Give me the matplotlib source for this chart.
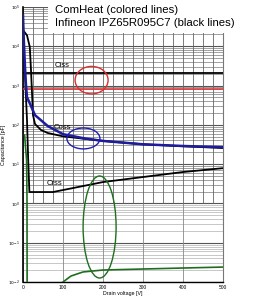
import numpy as np
import matplotlib
matplotlib.use("Agg")
import matplotlib.pyplot as plt
from matplotlib.patches import Ellipse, Rectangle

plt.rcParams['font.family'] = ['Liberation Sans', 'DejaVu Sans']

# ---- data (drain voltage V, capacitance pF) ----
ciss_black_v = [0, 500]
ciss_black_c = [2100, 2100]

ciss_red_v = [0, 500]
ciss_red_c = [810, 810]

coss_black_v = [0, 10, 17, 20, 25, 30, 45, 62, 100, 200, 300, 400, 500]
coss_black_c = [25800, 19000, 9600, 2460, 177, 105, 74, 62, 51, 39, 32, 28.5, 25.7]

coss_blue_v = [0, 2, 5, 7.5, 10, 30, 62, 100, 150, 200, 300, 400, 500]
coss_blue_c = [62000, 14400, 2950, 1020, 510, 177, 93, 58, 46, 39, 32, 29, 27]

crss_black_v = [0, 5, 10, 13, 16, 75, 200, 300, 400, 500]
crss_black_c = [10700, 1860, 132, 12.6, 1.95, 1.95, 3.5, 4.7, 6.3, 7.9]

crss_green1_v = [4, 6, 9, 10, 10.3]
crss_green1_c = [55, 30, 12.6, 1.2, 0.01]

crss_green2_v = [100, 120, 150, 200, 300, 400, 500]
crss_green2_c = [0.01, 0.0142, 0.018, 0.0202, 0.0214, 0.0227, 0.024]

ytick_vals = [1e-2, 1e-1, 1e0, 1e1, 1e2, 1e3, 1e4, 1e5]
ytick_labels = ['$10^{-2}$', '$10^{-1}$', '$10^{0}$', '$10^{1}$',
                '$10^{2}$', '$10^{3}$', '$10^{4}$', '$10^{5}$']
xtick_vals = [0, 100, 200, 300, 400, 500]
xtick_labels = ['0', '100', '200', '300', '400', '500']

fig = plt.figure(figsize=(2.58, 3.0), dpi=100)
ax = fig.add_axes([23/258, 18/300, 200/258, 275/300])
ax.set_yscale('log')
ax.set_xlim(0, 500)
ax.set_ylim(1e-2, 1e5)

# grid
minor_mult = np.arange(2, 10)
upper_minor = np.concatenate([minor_mult * 10.0**e for e in range(0, 5)])
lower_minor = np.concatenate([minor_mult * 10.0**e for e in range(-2, 0)])
ax.hlines(upper_minor, 0, 500, color='#7a7a7a', lw=0.5, zorder=0)
ax.hlines(lower_minor, 0, 500, color='#b0b0b0', lw=0.5, zorder=0)
ax.hlines(ytick_vals, 0, 500, color='#555555', lw=0.8, zorder=0)
ax.vlines(np.arange(0, 501, 25), 1, 1e5, color='#666666', lw=0.6, zorder=0)
ax.vlines(np.arange(0, 501, 100), 1e-2, 1, color='#888888', lw=0.6, zorder=0)

ax.set_yticks(ytick_vals)
ax.set_yticklabels(ytick_labels, fontsize=3.2)
ax.set_xticks(xtick_vals)
ax.set_xticklabels(xtick_labels, fontsize=3.5)
ax.tick_params(length=0, pad=2)
ax.tick_params(axis='y', which='minor', length=0)
ax.set_xlabel('Drain voltage [V]', fontsize=3.8, labelpad=1)
ax.set_ylabel('Capacitance [pF]', fontsize=3.8, labelpad=2)
ax.spines['top'].set_visible(False)
ax.spines['right'].set_color('#777777')
ax.spines['left'].set_linewidth(1.2)
ax.spines['bottom'].set_linewidth(1.0)

# curves
ax.plot(ciss_red_v, ciss_red_c, color='#e03a3a', lw=1.2, zorder=3)
ax.plot(ciss_black_v, ciss_black_c, color='black', lw=1.3, zorder=3)
ax.plot(coss_black_v, coss_black_c, color='black', lw=1.3, zorder=3)
ax.plot(coss_blue_v, coss_blue_c, color='#1c1c9c', lw=1.8, zorder=4)
ax.plot(crss_black_v, crss_black_c, color='black', lw=1.3, zorder=3)
ax.plot(crss_green1_v, crss_green1_c, color='#1f6e1f', lw=1.2, zorder=3)
ax.plot(crss_green2_v, crss_green2_c, color='#1f6e1f', lw=1.2, zorder=3)

# curve labels
ax.text(80, 3300, 'Ciss', fontsize=5.5, va='center', ha='left', zorder=5)
ax.text(77, 85, 'Coss', fontsize=5.5, va='center', ha='left', zorder=5)
ax.text(60, 3.2, 'Crss', fontsize=5.5, va='center', ha='left', zorder=5)

# highlight ellipses (axes fraction)
ax.add_patch(Ellipse((0.343, 0.734), 0.165, 0.10, transform=ax.transAxes,
                     fill=False, ec='#d93030', lw=1.0, zorder=6))
ax.add_patch(Ellipse((0.302, 0.522), 0.165, 0.076, transform=ax.transAxes,
                     fill=False, ec='#2020b0', lw=1.0, zorder=6))
ax.add_patch(Ellipse((0.383, 0.20), 0.165, 0.371, transform=ax.transAxes,
                     fill=False, ec='#1f6e1f', lw=1.0, zorder=6))

# title box
fig.patches.append(Rectangle((48/258, 1 - 33/300), 1, 33/300,
                             transform=fig.transFigure, facecolor='white',
                             edgecolor='none', zorder=10))
fig.text(55/258, 1 - 10/300, 'ComHeat (colored lines)', fontsize=8.2,
         va='center', ha='left', zorder=11)
fig.text(55/258, 1 - 22.5/300, 'Infineon IPZ65R095C7 (black lines)', fontsize=8.2,
         va='center', ha='left', zorder=11)

fig.savefig('out.png', dpi=100)
